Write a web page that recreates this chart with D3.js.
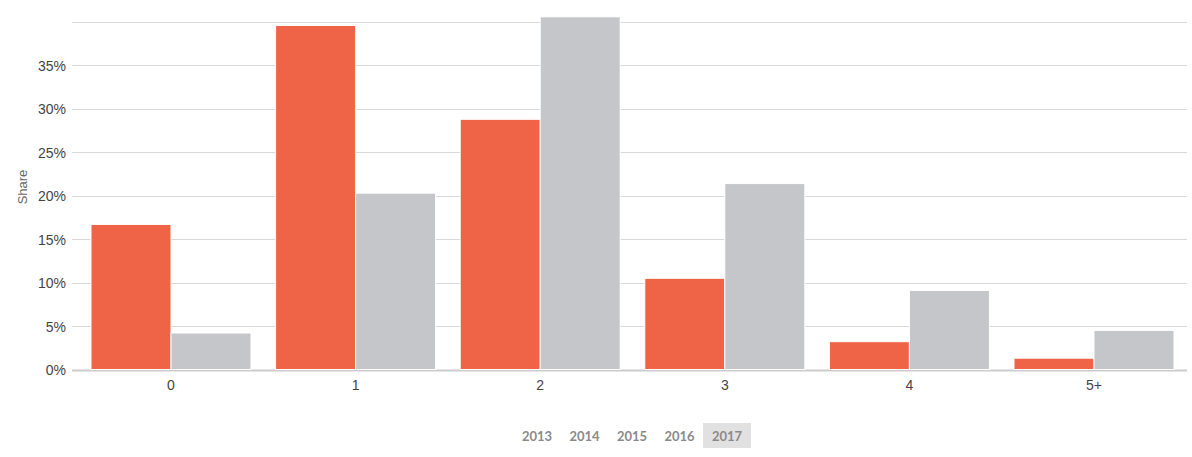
<!DOCTYPE html>
<html>
<head>
<meta charset="utf-8">
<script src="https://cdn.jsdelivr.net/npm/d3@7"></script>
<style>
  html, body { margin: 0; padding: 0; background: #fff; }
  svg { display: block; }
</style>
</head>
<body>
<svg id="chart" width="1192" height="457"></svg>
<script>
const categories = ["0", "1", "2", "3", "4", "5+"];
const seriesA = [16.7, 39.6, 28.8, 10.5, 3.2, 1.3];   // orange series
const seriesB = [4.2, 20.3, 40.6, 21.4, 9.1, 4.5];    // grey series
const yTicks = [0, 5, 10, 15, 20, 25, 30, 35, 40];
const yTickLabels = ["0%", "5%", "10%", "15%", "20%", "25%", "30%", "35%", ""];
const years = ["2013", "2014", "2015", "2016", "2017"];
const activeYear = "2017";
const yAxisTitle = "Share";

const svg = d3.select("#chart");

const x = d3.scaleBand().domain(categories).range([78.7, 1186.3]).padding(0);
const y = d3.scaleLinear().domain([0, 40]).range([369.5, 22]);
const groupPad = 12.3;
const inner = d3.scaleBand().domain(["A", "B"]).range([groupPad, x.bandwidth() - groupPad]).padding(0);

// gridlines
const grid = svg.append("g");
yTicks.forEach(t => {
  grid.append("line")
    .attr("x1", 72).attr("x2", 1187)
    .attr("y1", Math.round(y(t)) + 0.5).attr("y2", Math.round(y(t)) + 0.5)
    .attr("stroke", t === 0 ? "#cccccc" : "#d9d9d9")
    .attr("stroke-width", t === 0 ? 2 : 1);
});

// y labels
const yAxis = d3.axisLeft(y).tickValues(yTicks).tickSize(0).tickPadding(0)
  .tickFormat((d, i) => yTickLabels[i]);
const gy = svg.append("g").attr("transform", "translate(66,0)").call(yAxis);
gy.select(".domain").remove();
gy.selectAll("text")
  .attr("font-family", "Liberation Sans, Arial, sans-serif")
  .attr("font-size", 14).attr("fill", "#444").attr("dy", "0.36em");

// y axis title
svg.append("text")
  .attr("transform", "translate(27,187) rotate(-90)")
  .attr("text-anchor", "middle")
  .attr("font-family", "Liberation Sans, Arial, sans-serif")
  .attr("font-size", 13).attr("fill", "#666")
  .text(yAxisTitle);

// bars
const data = categories.map((c, i) => ({ c, vals: [{ k: "A", v: seriesA[i] }, { k: "B", v: seriesB[i] }] }));
const colors = { A: "#ef6346", B: "#c5c6c9" };
const groups = svg.append("g").selectAll("g").data(data).join("g")
  .attr("transform", d => `translate(${x(d.c)},0)`);
groups.selectAll("rect").data(d => d.vals).join("rect")
  .attr("x", d => inner(d.k))
  .attr("width", inner.bandwidth())
  .attr("y", d => y(d.v))
  .attr("height", d => y(0) - y(d.v))
  .attr("fill", d => colors[d.k])
  .attr("stroke", "#ffffff")
  .attr("stroke-width", 1);

// x labels
const xAxis = d3.axisBottom(x).tickSize(0).tickPadding(0);
const gx = svg.append("g").attr("transform", "translate(0,385)").call(xAxis);
gx.select(".domain").remove();
gx.selectAll("text")
  .attr("font-family", "Liberation Sans, Arial, sans-serif")
  .attr("font-size", 14).attr("fill", "#444").attr("dy", "0.36em");

// year buttons
const yb = d3.scalePoint().domain(years).range([537, 727]);
const btn = svg.append("g").selectAll("g").data(years).join("g")
  .attr("transform", d => `translate(${yb(d)},436)`);
btn.filter(d => d === activeYear).append("rect")
  .attr("x", -24).attr("y", -13).attr("width", 48).attr("height", 25)
  .attr("fill", "#e1e1e1");
btn.append("text")
  .attr("text-anchor", "middle").attr("dy", "0.36em")
  .attr("font-family", "Lato, sans-serif").attr("font-weight", "bold")
  .attr("font-size", 13).attr("fill", "#8a8a8a")
  .text(d => d);
</script>
</body>
</html>
